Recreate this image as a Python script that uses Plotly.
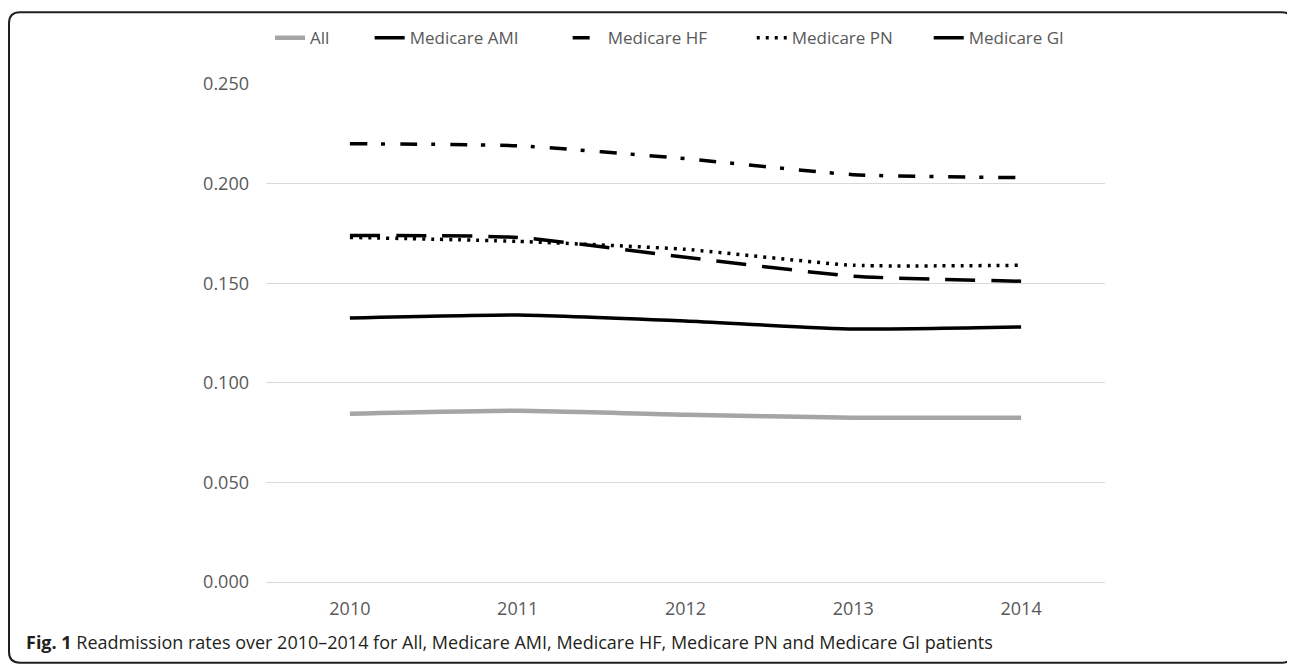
import plotly.graph_objects as go

years = ["2010", "2011", "2012", "2013", "2014"]
all_rate = [0.0845, 0.086, 0.084, 0.0825, 0.0825]
ami = [0.174, 0.173, 0.163, 0.1535, 0.151]
hf = [0.220, 0.219, 0.2125, 0.2045, 0.203]
pn = [0.173, 0.171, 0.167, 0.159, 0.159]
gi = [0.1325, 0.134, 0.131, 0.127, 0.128]
y_ticks = [0.0, 0.05, 0.10, 0.15, 0.20, 0.25]
names = ["All", "Medicare AMI", "Medicare HF", "Medicare PN", "Medicare GI"]

OFF = 8  # page body margin
W, H = 1295 - OFF, 665 - OFF
L, R, T, B = 266 - OFF, 1105 - OFF, 82 - OFF, 582 - OFF  # plot area in figure pixels

def px(x):
    return (x - OFF - L) / (R - L)

def py(y):
    return (B - (y - OFF)) / (B - T)

NB = "\u00a0"
pads = [8, 10, 9, 7, 0]

styles = [
    dict(color="#a5a5a5", width=4.5, dash="solid"),
    dict(color="#000000", width=3.5, dash="30px,16px"),
    dict(color="#000000", width=3.5, dash="17px,14px,4px,15px"),
    dict(color="#000000", width=3.5, dash="3px,6px"),
    dict(color="#000000", width=3.5, dash="solid"),
]

fig = go.Figure()
for name, vals, ln, pad in zip(names, [all_rate, ami, hf, pn, gi], styles, pads):
    fig.add_trace(go.Scatter(
        x=years, y=vals, name=name + NB * pad, mode="lines",
        line=dict(shape="spline", smoothing=0.5, **ln),
    ))

tick_font = dict(family="Open Sans, sans-serif", size=18, color="#595959")
leg_font = dict(family="Open Sans, sans-serif", size=17, color="#595959")

fig.update_layout(
    width=W, height=H,
    margin=dict(l=L, r=W - R, t=T, b=H - B, pad=0),
    paper_bgcolor="white", plot_bgcolor="white",
    showlegend=True,
    legend=dict(
        orientation="h", x=px(270), xanchor="left", y=py(36), yanchor="middle",
        font=leg_font, traceorder="normal", itemwidth=30,
        bgcolor="rgba(0,0,0,0)",
    ),
    xaxis=dict(
        type="category", range=[-0.5, 4.5], showgrid=False, showline=False, zeroline=False,
        ticks="", tickfont=tick_font, ticklabelstandoff=14,
    ),
    yaxis=dict(
        range=[0, 0.25], tickvals=y_ticks, tickformat=".3f",
        showgrid=True, gridcolor="#d9d9d9", gridwidth=1.2,
        zeroline=True, zerolinecolor="#d9d9d9", zerolinewidth=1.2,
        showline=False, ticks="", tickfont=tick_font, ticklabelstandoff=16,
    ),
)

# rounded border frame (screen pixel coordinates)
x0, x1, y0, y1 = 9, 1293, 10, 663
r = 11
path = (
    f"M {px(x0 + r)} {py(y0)} L {px(x1 - r)} {py(y0)} "
    f"Q {px(x1)} {py(y0)} {px(x1)} {py(y0 + r)} "
    f"L {px(x1)} {py(y1 - r)} Q {px(x1)} {py(y1)} {px(x1 - r)} {py(y1)} "
    f"L {px(x0 + r)} {py(y1)} Q {px(x0)} {py(y1)} {px(x0)} {py(y1 - r)} "
    f"L {px(x0)} {py(y0 + r)} Q {px(x0)} {py(y0)} {px(x0 + r)} {py(y0)} Z"
)
fig.add_shape(type="path", path=path, xref="paper", yref="paper",
              line=dict(color="#231f20", width=2), fillcolor="rgba(0,0,0,0)")

fig.add_annotation(
    text="<b>Fig. 1</b> Readmission rates over 2010\u20132014 for All, Medicare AMI, Medicare HF, Medicare PN and Medicare GI patients",
    x=px(24), y=py(642), xref="paper", yref="paper", xanchor="left", yanchor="middle",
    showarrow=False, font=dict(family="Open Sans, sans-serif", size=18, color="#231f20"),
)

fig.write_html("out.html")
